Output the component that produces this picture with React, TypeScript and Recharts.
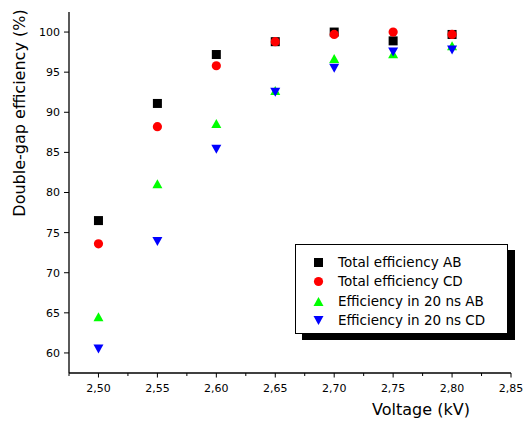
import React from 'react';
import { ScatterChart, Scatter, XAxis, YAxis } from 'recharts';

const voltages = [2.5, 2.55, 2.6, 2.65, 2.7, 2.75, 2.8];
const totalAB = [76.5, 91.1, 97.2, 98.8, 100.0, 98.9, 99.7];
const totalCD = [73.6, 88.2, 95.8, 98.8, 99.7, 100.0, 99.7];
const in20AB = [64.5, 81.1, 88.6, 92.7, 96.7, 97.3, 98.3];
const in20CD = [60.5, 73.9, 85.4, 92.5, 95.5, 97.5, 97.75];
const xTicks = [2.475, 2.5, 2.525, 2.55, 2.575, 2.6, 2.625, 2.65, 2.675, 2.7, 2.725, 2.75, 2.775, 2.8, 2.825, 2.85];
const yTicks = [60, 65, 70, 75, 80, 85, 90, 95, 100];

const FONT = '"DejaVu Sans", Verdana, sans-serif';

const toPts = (ys: number[]) => voltages.map((x, i) => ({ x, y: ys[i] }));

const Square = (p: any) => <rect x={p.cx - 4.5} y={p.cy - 4.5} width={9} height={9} fill="#000" />;
const Circle = (p: any) => <circle cx={p.cx} cy={p.cy} r={4.6} fill="#ff0000" />;
const TriUp = (p: any) => (
  <polygon points={`${p.cx - 5},${p.cy + 4.5} ${p.cx + 5},${p.cy + 4.5} ${p.cx},${p.cy - 4.5}`} fill="#00ff00" />
);
const TriDown = (p: any) => (
  <polygon points={`${p.cx - 5},${p.cy - 4.5} ${p.cx + 5},${p.cy - 4.5} ${p.cx},${p.cy + 4.5}`} fill="#0000ff" />
);

const series = [
  { name: 'Total efficiency AB', data: totalAB, shape: Square },
  { name: 'Total efficiency CD', data: totalCD, shape: Circle },
  { name: 'Efficiency in 20 ns AB', data: in20AB, shape: TriUp },
  { name: 'Efficiency in 20 ns CD', data: in20CD, shape: TriDown },
];

const XTick = (props: any) => {
  const { x, y, payload } = props;
  const v = payload.value as number;
  const major = Math.round(v * 1000) % 50 === 0;
  return (
    <g>
      <line x1={x} x2={x} y1={y} y2={y + (major ? 4.5 : 3)} stroke="#000" strokeWidth={1} />
      {major && (
        <text x={x} y={y + 16} textAnchor="middle" dominantBaseline="middle" fontSize={11} fontFamily={FONT} fill="#000">
          {v.toFixed(2).replace('.', ',')}
        </text>
      )}
    </g>
  );
};

const LegendBox = () => (
  <div
    style={{
      position: 'absolute',
      left: 295,
      top: 244,
      width: 211,
      height: 80,
      border: '1px solid #000',
      background: '#fff',
      boxShadow: '7px 6px 0 #000',
      fontFamily: FONT,
      fontSize: 13.5,
      color: '#000',
      paddingTop: 8,
      boxSizing: 'content-box',
    }}
  >
    {series.map((s) => (
      <div key={s.name} style={{ display: 'flex', alignItems: 'center', height: 19.3 }}>
        <svg width={42} height={19} style={{ flex: 'none' }}>
          {React.createElement(s.shape, { cx: 22.5, cy: 9.5 })}
        </svg>
        <span style={{ whiteSpace: 'nowrap', lineHeight: '19px' }}>{s.name}</span>
      </div>
    ))}
  </div>
);

export default function App() {
  return (
    <div style={{ position: 'absolute', left: 0, top: 0, width: 523, height: 422, background: '#fff' }}>
      <ScatterChart width={523} height={422} margin={{ top: 12, right: 12, bottom: 0, left: 0 }}>
        <XAxis
          type="number"
          dataKey="x"
          domain={[2.475, 2.85]}
          ticks={xTicks}
          interval={0}
          allowDataOverflow
          height={49}
          tickSize={0}
          tickMargin={0}
          tickLine={false}
          tick={<XTick />}
          axisLine={{ stroke: '#000', strokeWidth: 1.3 }}
          label={(p: any) => (
            <text x={421} y={410} textAnchor="middle" dominantBaseline="middle" fontSize={16} fontFamily={FONT} fill="#000">
              Voltage (kV)
            </text>
          )}
        />
        <YAxis
          type="number"
          dataKey="y"
          domain={[57.5, 102.5]}
          ticks={yTicks}
          interval={0}
          allowDataOverflow
          width={69}
          tickSize={5}
          tickMargin={4}
          tickLine={{ stroke: '#000' }}
          axisLine={{ stroke: '#000', strokeWidth: 1.3 }}
          tick={{ fill: '#000', fontSize: 11, fontFamily: FONT }}
          label={(p: any) => (
            <text
              x={20}
              y={113}
              transform="rotate(-90 20 113)"
              textAnchor="middle"
              dominantBaseline="middle"
              fontSize={16}
              fontFamily={FONT}
              fill="#000"
            >
              Double-gap efficiency (%)
            </text>
          )}
        />
        {series.map((s) => (
          <Scatter key={s.name} name={s.name} data={toPts(s.data)} shape={s.shape} isAnimationActive={false} />
        ))}
      </ScatterChart>
      <LegendBox />
    </div>
  );
}
